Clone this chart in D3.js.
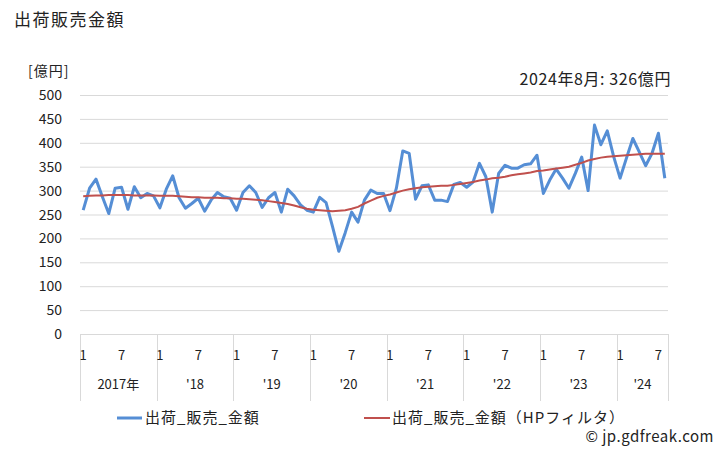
<!DOCTYPE html>
<html><head><meta charset="utf-8">
<script src="https://cdn.jsdelivr.net/npm/d3@7"></script>
<style>body{margin:0;background:#fff;} text{font-family:"Noto Sans CJK JP","Noto Sans",sans-serif;fill:#222;}</style>
</head><body>
<svg id="c" width="728" height="450"></svg>
<script>
const years = [2017,2018,2019,2020,2021,2022,2023,2024];
const yearLabels = ["2017年","'18","'19","'20","'21","'22","'23","'24"];
const yTicks = [0,50,100,150,200,250,300,350,400,450,500];
const sales = [259,305,324,287,252,305,307,261,308,285,294,289,
 264,303,331,285,263,273,284,257,280,296,287,284,
 259,296,310,296,265,285,296,255,303,289,270,259,
 255,286,275,225,173,212,255,234,280,301,294,294,
 258,305,383,378,282,310,312,280,280,277,313,317,
 307,318,357,329,255,336,353,347,347,354,356,374,
 294,322,345,326,305,336,370,300,437,396,425,371,
 326,368,409,381,352,378,420,326];
const trend = [288,289,290,290,291,291,291,291,290,290,290,290,
 289,289,289,288,287,286,286,285,285,285,284,284,
 283,283,282,281,280,278,276,274,272,269,265,262,
 260,259,258,257,258,259,262,266,273,279,285,289,
 292,296,300,303,305,307,308,309,310,310,312,314,
 316,318,321,323,326,327,329,332,334,336,338,341,
 342,344,346,348,350,354,358,363,366,369,371,372,
 373,374,375,376,377,377,377,377];
const months = sales.map((d,i)=>i);
const monthLabel = i => (i%12===0 ? "1" : (i%12===6 ? "7" : ""));

const svg = d3.select("#c");
const L=80, R=668, T=95, B=334;
const x = d3.scaleBand().domain(months).range([L,R]);
const y = d3.scaleLinear().domain([0,500]).range([B,T]);
const grid="#d9d9d9";

svg.append("text").attr("x",14).attr("y",26).attr("font-size",17).attr("letter-spacing",1.5).text("出荷販売金額");
svg.append("text").attr("x",28).attr("y",76).attr("font-size",14).attr("letter-spacing",1).text("[億円]");
svg.append("text").attr("x",671).attr("y",85).attr("text-anchor","end").attr("font-size",16).attr("letter-spacing",0.6).text("2024年8月: 326億円");

svg.append("g").selectAll("line").data(yTicks).join("line")
  .attr("x1",L).attr("x2",R).attr("y1",d=>y(d)+0.5).attr("y2",d=>y(d)+0.5)
  .attr("stroke",grid).attr("stroke-width",1);
svg.append("g").selectAll("text").data(yTicks).join("text")
  .attr("x",62).attr("y",d=>y(d)+5).attr("text-anchor","end").attr("font-size",14).text(d=>d);

// x axis category box
const seps = years.map((yr,k)=>x(k*12)).concat([R]);
svg.append("g").selectAll("line").data(seps).join("line")
  .attr("x1",d=>Math.round(d)+0.5).attr("x2",d=>Math.round(d)+0.5).attr("y1",B).attr("y2",401)
  .attr("stroke",grid).attr("stroke-width",1);
svg.append("g").selectAll("text").data(months.filter(i=>monthLabel(i))).join("text")
  .attr("x",i=>x(i)+x.bandwidth()/2).attr("y",360).attr("text-anchor","middle").attr("font-size",13)
  .text(monthLabel);
svg.append("g").selectAll("text").data(years).join("text")
  .attr("x",(yr,k)=>{const s=x(k*12); const e=(k===years.length-1)?R:x(k*12+12); return (s+e)/2;})
  .attr("y",389).attr("text-anchor","middle").attr("font-size",13)
  .text((yr,k)=>yearLabels[k]);

const line = d3.line().x((d,i)=>x(i)+x.bandwidth()/2).y(d=>y(d));
svg.append("path").datum(sales).attr("d",line).attr("fill","none")
  .attr("stroke","#558ed5").attr("stroke-width",3).attr("stroke-linejoin","round");
svg.append("path").datum(trend).attr("d",line).attr("fill","none")
  .attr("stroke","#c0504d").attr("stroke-width",2);

// legend
const lg = svg.append("g");
lg.append("line").attr("x1",117).attr("x2",142).attr("y1",418).attr("y2",418).attr("stroke","#558ed5").attr("stroke-width",3);
lg.append("text").attr("x",145).attr("y",423).attr("font-size",15).attr("letter-spacing",1).text("出荷_販売_金額");
lg.append("line").attr("x1",364).attr("x2",390).attr("y1",418).attr("y2",418).attr("stroke","#c0504d").attr("stroke-width",2);
lg.append("text").attr("x",392).attr("y",423).attr("font-size",15).attr("letter-spacing",1).text("出荷_販売_金額（HPフィルタ）");
svg.append("text").attr("x",714).attr("y",442).attr("text-anchor","end").attr("font-size",15).attr("letter-spacing",0.5).text("© jp.gdfreak.com");
</script>
</body></html>
